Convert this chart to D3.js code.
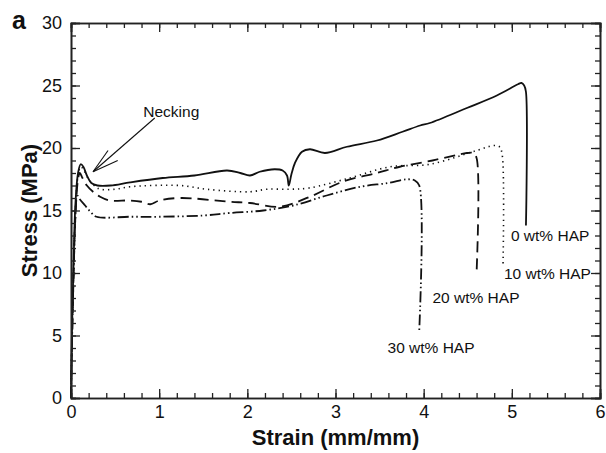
<!DOCTYPE html>
<html>
<head>
<meta charset="utf-8">
<script src="https://cdn.jsdelivr.net/npm/d3@7"></script>
<style>
body { margin: 0; background: #fff; }
text { font-family: "Liberation Sans", Arial, sans-serif; fill: #111; }
</style>
</head>
<body>
<div id="chart"></div>
<script>
// 0 wt% HAP (solid)
var strain0 = [0, 0.01, 0.03, 0.05, 0.08, 0.11, 0.14, 0.18, 0.23, 0.3, 0.45, 0.67, 1.04, 1.4, 1.77, 1.92, 2.03, 2.14, 2.31, 2.4, 2.45, 2.47, 2.5, 2.54, 2.62, 2.71, 2.88, 3.13, 3.47, 3.76, 3.96, 4.07, 4.49, 4.83, 5.07, 5.11, 5.14, 5.16, 5.16];
var stress0 = [0, 5, 11, 15.5, 18, 18.7, 18.5, 17.8, 17.2, 17.0, 17.0, 17.25, 17.6, 17.8, 18.2, 18.0, 17.8, 18.1, 18.3, 18.2, 17.8, 17.0, 17.9, 18.8, 19.7, 19.9, 19.6, 20.1, 20.6, 21.3, 21.8, 22.0, 23.2, 24.2, 25.1, 25.2, 25.0, 24.5, 13.8];
// 10 wt% HAP (dotted)
var strain10 = [0, 0.01, 0.03, 0.05, 0.08, 0.11, 0.14, 0.2, 0.28, 0.33, 0.5, 0.67, 1.24, 1.54, 2.03, 2.22, 2.48, 2.7, 3.16, 3.62, 4.07, 4.6, 4.8, 4.86, 4.89, 4.9];
var stress10 = [0, 4.5, 10.5, 15, 17.8, 18.5, 18.3, 17.5, 16.9, 16.7, 16.7, 16.9, 17.0, 16.7, 16.5, 16.7, 16.7, 16.8, 17.6, 18.5, 18.7, 19.8, 20.2, 20.1, 19.5, 10.6];
// 20 wt% HAP (dashed)
var strain20 = [0, 0.01, 0.03, 0.05, 0.08, 0.1, 0.13, 0.18, 0.25, 0.33, 0.44, 0.67, 0.8, 0.9, 1.0, 1.24, 1.8, 2.03, 2.37, 2.71, 3.08, 3.47, 3.73, 4.1, 4.49, 4.56, 4.6, 4.6];
var stress20 = [0, 4, 10, 14.5, 17.5, 18.0, 17.6, 17.0, 16.5, 16.1, 15.8, 15.8, 15.7, 15.5, 15.8, 16.0, 15.7, 15.6, 15.3, 16.1, 17.3, 18.0, 18.5, 19.0, 19.6, 19.6, 19.2, 10.0];
// 30 wt% HAP (dash-dot)
var strain30 = [0, 0.01, 0.03, 0.05, 0.07, 0.1, 0.16, 0.22, 0.29, 0.67, 1.0, 1.5, 1.8, 2.18, 2.52, 2.9, 3.28, 3.6, 3.81, 3.9, 3.95, 3.95];
var stress30 = [0, 4, 10, 14.5, 16.2, 15.9, 15.4, 14.9, 14.5, 14.5, 14.5, 14.6, 14.8, 15.0, 15.4, 16.2, 16.9, 17.2, 17.5, 17.4, 17.0, 5.4];

var xTicks = [0, 1, 2, 3, 4, 5, 6];
var yTicks = [0, 5, 10, 15, 20, 25, 30];

var seriesNames = ["0 wt% HAP", "10 wt% HAP", "20 wt% HAP", "30 wt% HAP"];
// label anchor in data units (strain, stress)
var labelStrain = [4.99, 4.91, 4.10, 3.59];
var labelStress = [12.6, 9.56, 7.64, 3.64];

// necking arrow in data units
var neckTip = [0.25, 18.1];
var neckTail = [0.95, 22.4];
var neckHeadA = [0.42, 19.8];
var neckHeadB = [0.53, 19.0];
var neckText = [0.82, 22.5];

var w = 606, h = 453;
var mLeft = 71, mRight = 600, mTop = 23, mBottom = 398;

var svg = d3.select("#chart").append("svg")
  .attr("width", w)
  .attr("height", h);

var xScale = d3.scaleLinear().domain([0, 6]).range([mLeft, mRight]);
var yScale = d3.scaleLinear().domain([0, 30]).range([mBottom, mTop]);

var line = d3.line()
  .x(function(d) { return xScale(d[0]); })
  .y(function(d) { return yScale(d[1]); })
  .curve(d3.curveCatmullRom.alpha(0.5));

var series = [
  { x: strain0, y: stress0, dash: null, width: 1.8 },
  { x: strain10, y: stress10, dash: "1.3,4", width: 1.6 },
  { x: strain20, y: stress20, dash: "11,6", width: 1.8 },
  { x: strain30, y: stress30, dash: "11,3,1.5,3,1.5,3", width: 1.8 }
];

series.forEach(function(s) {
  var pts = s.x.map(function(v, i) { return [v, s.y[i]]; });
  svg.append("path")
    .datum(pts)
    .attr("fill", "none")
    .attr("stroke", "#111")
    .attr("stroke-width", s.width)
    .attr("stroke-dasharray", s.dash)
    .attr("d", line);
});

// axes with inward ticks on all four sides
var minorX = d3.range(0, 6.01, 0.2);
var minorY = d3.range(0, 30.01, 1);

function styleAxis(g) {
  g.select(".domain").attr("stroke", "#222").attr("stroke-width", 1.6);
  g.selectAll(".tick line").attr("stroke", "#222").attr("stroke-width", 1.3);
  g.selectAll("text").attr("font-size", 18).attr("fill", "#111")
    .style("font-family", "'Liberation Sans', Arial, sans-serif");
}

function addAxis(axis, tx, ty) {
  svg.append("g")
    .attr("transform", "translate(" + tx + "," + ty + ")")
    .call(axis)
    .call(styleAxis);
}

// minor ticks
addAxis(d3.axisBottom(xScale).tickValues(minorX).tickSize(-5).tickFormat(""), 0, mBottom);
addAxis(d3.axisTop(xScale).tickValues(minorX).tickSize(-5).tickFormat(""), 0, mTop);
addAxis(d3.axisLeft(yScale).tickValues(minorY).tickSize(-5).tickFormat(""), mLeft, 0);
addAxis(d3.axisRight(yScale).tickValues(minorY).tickSize(-5).tickFormat(""), mRight, 0);
// major ticks
addAxis(d3.axisTop(xScale).tickValues(xTicks).tickSize(-9).tickFormat(""), 0, mTop);
addAxis(d3.axisRight(yScale).tickValues(yTicks).tickSize(-9).tickFormat(""), mRight, 0);
addAxis(d3.axisBottom(xScale).tickValues(xTicks).tickSize(-9).tickPadding(7).tickFormat(d3.format("d")), 0, mBottom);
addAxis(d3.axisLeft(yScale).tickValues(yTicks).tickSize(-9).tickPadding(9).tickFormat(d3.format("d")), mLeft, 0);

// axis titles
svg.append("text")
  .attr("x", (mLeft + mRight) / 2)
  .attr("y", 445)
  .attr("text-anchor", "middle")
  .attr("font-size", 22)
  .attr("font-weight", "bold")
  .text("Strain (mm/mm)");

svg.append("text")
  .attr("transform", "translate(37," + ((mTop + mBottom) / 2) + ") rotate(-90)")
  .attr("text-anchor", "middle")
  .attr("font-size", 22)
  .attr("font-weight", "bold")
  .text("Stress (MPa)");

svg.append("text")
  .attr("x", 12)
  .attr("y", 29)
  .attr("font-size", 25)
  .attr("font-weight", "bold")
  .text("a");

// series labels
seriesNames.forEach(function(name, i) {
  svg.append("text")
    .attr("x", xScale(labelStrain[i]))
    .attr("y", yScale(labelStress[i]))
    .attr("font-size", 15.5)
    .text(name);
});

// necking annotation
var arrowLines = [[neckTail, neckTip], [neckHeadA, neckTip], [neckHeadB, neckTip]];
arrowLines.forEach(function(l) {
  svg.append("line")
    .attr("x1", xScale(l[0][0])).attr("y1", yScale(l[0][1]))
    .attr("x2", xScale(l[1][0])).attr("y2", yScale(l[1][1]))
    .attr("stroke", "#111")
    .attr("stroke-width", 1.1);
});
svg.append("text")
  .attr("x", xScale(neckText[0]))
  .attr("y", yScale(neckText[1]))
  .attr("font-size", 15.5)
  .text("Necking");
</script>
</body>
</html>
